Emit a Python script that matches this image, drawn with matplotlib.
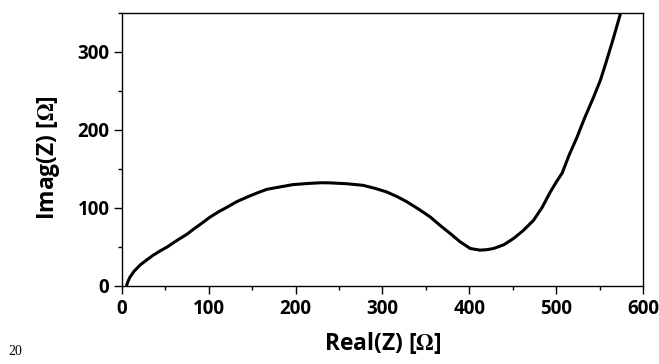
import matplotlib
matplotlib.use('Agg')
import matplotlib.pyplot as plt
from matplotlib.ticker import MultipleLocator

# Nyquist plot values
real_z = [5, 7, 9, 14, 21, 28, 36, 44, 52, 60, 67, 75, 82, 92, 101, 111, 121, 132,
          144, 155, 167, 182, 197, 215, 230, 240, 260, 278, 292, 305, 317, 328,
          341, 355, 366, 378, 389, 401, 412, 420, 428, 440, 451, 462, 474, 484,
          493, 500, 507, 515, 524, 533, 543, 551, 558, 566, 574]
imag_z = [0, 6, 11, 19, 27, 33, 39.5, 45, 50, 56, 61, 66.5, 72.5, 80.5, 88, 95, 101, 108,
          114, 119, 124, 127, 130, 131.5, 132.4, 132.2, 131, 129, 125, 120.5, 114.5, 108,
          99, 88.5, 78, 67.3, 57, 48.1, 46, 46.5, 48.1, 53, 61, 71, 84.3, 101,
          120, 133, 145, 168, 190.7, 216, 241.8, 264, 288.6, 318, 349]

plt.rcParams['font.family'] = ['Open Sans', 'DejaVu Sans']
plt.rcParams['font.weight'] = 'bold'
plt.rcParams['mathtext.fontset'] = 'stix'

fig = plt.figure(figsize=(6.59, 3.64), dpi=100)
ax = fig.add_axes([0.1851, 0.2143, 0.7906, 0.75])

ax.plot(real_z, imag_z, color='black', linewidth=2.2, solid_capstyle='butt')

ax.set_xlim(0, 600)
ax.set_ylim(0, 350)
ax.xaxis.set_major_locator(MultipleLocator(100))
ax.xaxis.set_minor_locator(MultipleLocator(50))
ax.yaxis.set_major_locator(MultipleLocator(100))
ax.yaxis.set_minor_locator(MultipleLocator(50))
ax.tick_params(which='major', direction='out', length=5.5, width=1, labelsize=13.5)
ax.tick_params(which='minor', direction='out', length=3, width=1)
ax.tick_params(axis='x', pad=4)
for lab in ax.get_xticklabels() + ax.get_yticklabels():
    lab.set_fontweight('bold')
for sp in ax.spines.values():
    sp.set_linewidth(1.0)

ax.set_xlabel(r'Real(Z) [$\Omega$]', fontsize=16.5, fontweight='bold', labelpad=8)
ax.set_ylabel(r'Imag(Z) [$\Omega$]', fontsize=16.5, fontweight='bold')
ax.yaxis.set_label_coords(-0.116, 0.47)

# page number in the corner
fig.text(0.012, 0.025, '20', fontsize=10, family='Liberation Serif', fontweight='normal')

fig.savefig('out.png', dpi=100)
